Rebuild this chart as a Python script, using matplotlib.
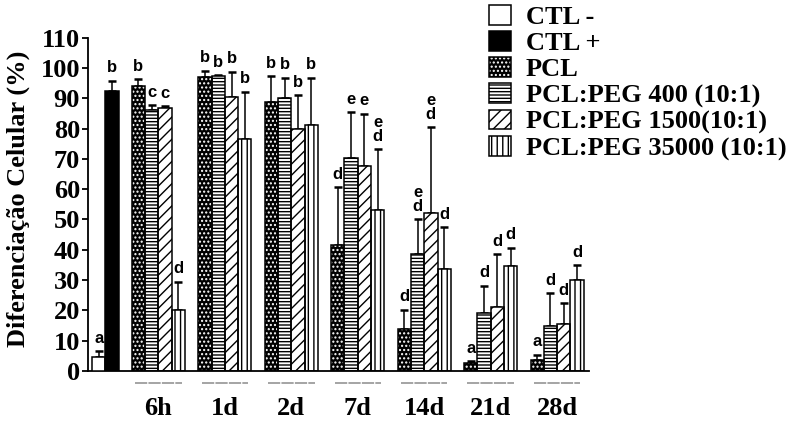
import matplotlib
matplotlib.use("Agg")
import matplotlib.pyplot as plt
import matplotlib.transforms as mtransforms
from matplotlib.patches import Patch
from matplotlib.legend_handler import HandlerTuple
import numpy as np

times = ["6h", "1d", "2d", "7d", "14d", "21d", "28d"]

ctl_names = ["CTL -", "CTL +"]
ctl_mean = [4.5, 92.3]
ctl_err = [2.0, 3.4]
ctl_sig = ["a", "b"]

series_names = ["PCL", "PCL:PEG 400 (10:1)", "PCL:PEG 1500(10:1)", "PCL:PEG 35000 (10:1)"]
pcl_mean = [94.0, 96.9, 88.9, 41.6, 13.7, 2.7, 3.6]
pcl_err = [2.3, 2.2, 8.4, 19.1, 6.5, 0.6, 1.8]
peg400_mean = [86.0, 97.3, 90.1, 70.2, 38.5, 19.0, 14.8]
peg400_err = [1.7, 0.3, 6.6, 15.2, 11.5, 9.2, 10.8]
peg1500_mean = [86.9, 90.3, 79.7, 67.8, 52.1, 21.0, 15.5]
peg1500_err = [0.4, 8.5, 11.2, 17.0, 28.3, 17.6, 6.8]
peg35000_mean = [20.2, 76.4, 81.3, 53.0, 33.5, 34.6, 30.0]
peg35000_err = [9.3, 15.8, 15.4, 20.1, 14.0, 6.1, 4.9]

pcl_sig = ["b", "b", "b", "d", "d", "a", "a"]
peg400_sig = ["c", "b", "b", "e", "e\nd", "d", "d"]
peg1500_sig = ["c", "b", "b", "e", "e\nd", "d", "d"]
peg35000_sig = ["d", "b", "b", "e\nd", "d", "d", "d"]

plt.rcParams["hatch.linewidth"] = 1.0
serif = "Liberation Serif"
sans = "Liberation Sans"

fig = plt.figure(figsize=(7.92, 4.21), dpi=100)
ax = fig.add_axes([88 / 792, 50 / 421, 501 / 792, 333.4 / 421])

EW = 1.1
styles = [
    dict(face="black", hatch="....", hatch_col="white"),   # PCL
    dict(face="white", hatch="-----", hatch_col="black"),  # PEG 400
    dict(face="white", hatch="///", hatch_col="black"),    # PEG 1500
    dict(face="white", hatch="|||", hatch_col="black"),    # PEG 35000
]


def draw_bars(x, h, err, st):
    ax.bar(x, h, width=1, align="edge", color=st["face"], edgecolor=st["hatch_col"],
           hatch=st["hatch"], linewidth=0, zorder=2)
    ax.bar(x, h, width=1, align="edge", fill=False, edgecolor="black",
           linewidth=EW, zorder=3)
    ax.errorbar(np.asarray(x) + 0.5, h, yerr=[np.zeros(len(h)), err], fmt="none",
                ecolor="black", elinewidth=1.1, capsize=2.9, capthick=1.8, zorder=1)


def put_letters(x, h, err, sig):
    for xi, hi, ei, s in zip(x, h, err, sig):
        ax.text(xi + 0.5, hi + ei + 2.8, s, ha="center", va="baseline",
                fontsize=12, fontweight="bold", family=sans, linespacing=0.9,
                zorder=4)


# controls
ctl_x = np.array([-3, -2])
ax.bar(ctl_x[0], ctl_mean[0], width=1, align="edge", color="white",
       edgecolor="black", linewidth=EW, zorder=3)
ax.bar(ctl_x[1], ctl_mean[1], width=1, align="edge", color="black",
       edgecolor="black", linewidth=EW, zorder=3)
ax.errorbar(ctl_x + 0.5, ctl_mean, yerr=[[0, 0], ctl_err], fmt="none",
            ecolor="black", elinewidth=1.1, capsize=2.9, capthick=1.8, zorder=1)
put_letters(ctl_x, ctl_mean, ctl_err, ctl_sig)

means = [pcl_mean, peg400_mean, peg1500_mean, peg35000_mean]
errs = [pcl_err, peg400_err, peg1500_err, peg35000_err]
sigs = [pcl_sig, peg400_sig, peg1500_sig, peg35000_sig]
group_x = np.arange(len(times)) * 5
for i in range(4):
    x = group_x + i
    draw_bars(x, means[i], errs[i], styles[i])
    put_letters(x, means[i], errs[i], sigs[i])

ax.set_xlim(-3.3, 34.4)
ax.set_ylim(0, 110)
ax.set_yticks(range(0, 111, 10))
ax.set_xticks([])
for sp in ["top", "right"]:
    ax.spines[sp].set_visible(False)
for sp in ["left", "bottom"]:
    ax.spines[sp].set_linewidth(1.3)
ax.tick_params(axis="y", direction="out", length=4.3, width=1.3, pad=1.5)
for lab in ax.get_yticklabels():
    lab.set_fontfamily(serif)
    lab.set_fontweight("bold")
    lab.set_fontsize(19)

ax.set_ylabel("Diferenciação Celular (%)", fontsize=19, fontweight="bold", family=serif)
ax.yaxis.set_label_coords(-0.115, 0.515)

# time labels under each group
trans = mtransforms.blended_transform_factory(ax.transData, ax.transAxes)
for gx, t in zip(group_x, times):
    c = gx + 2
    ax.plot([c - 1.75, c + 1.75], [-0.036, -0.036], transform=trans, color="#8c8c8c",
            lw=1.1, dashes=(8, 0.8), clip_on=False)
    ax.text(c, -0.112, t, transform=trans, ha="center", va="center",
            fontsize=19, fontweight="bold", family=serif)

# legend
handles = [
    Patch(facecolor="white", edgecolor="black", linewidth=EW),
    Patch(facecolor="black", edgecolor="black", linewidth=EW),
]
for st in styles:
    handles.append((Patch(facecolor=st["face"], edgecolor=st["hatch_col"], hatch=st["hatch"], linewidth=0),
                    Patch(fill=False, edgecolor="black", linewidth=EW)))
fig.legend(handles, ctl_names + series_names, loc="upper left",
           bbox_to_anchor=(489 / 792, 1 - 5 / 421), frameon=False, borderpad=0,
           handlelength=0.83, handleheight=0.76, handletextpad=0.57, labelspacing=0.08,
           borderaxespad=0, handler_map={tuple: HandlerTuple(ndivide=1)},
           prop=dict(family=serif, weight="bold", size=19))

fig.savefig("out.png", dpi=100)
